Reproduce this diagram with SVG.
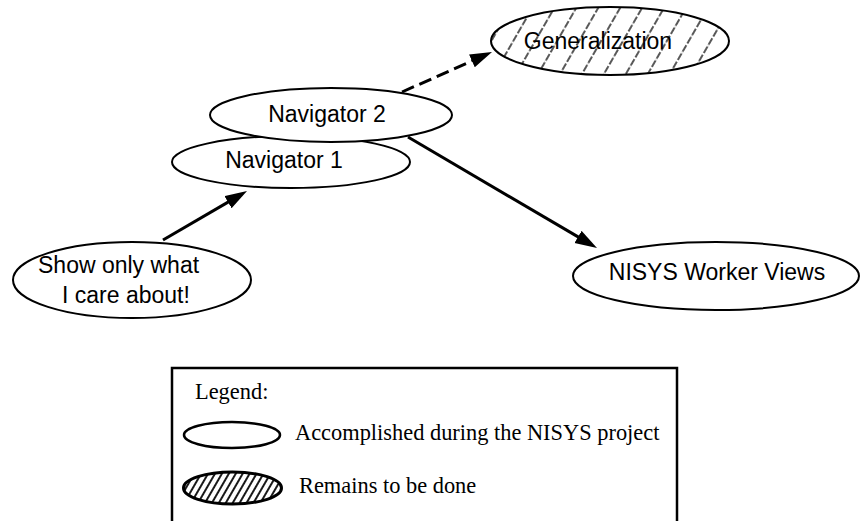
<svg xmlns="http://www.w3.org/2000/svg" width="863" height="521" viewBox="0 0 863 521">
<style>
.node{fill:#fff;stroke:#000;stroke-width:2}
.lbl{font-family:"Liberation Sans",Arial,sans-serif;font-size:23px;fill:#000}
.leg{font-family:"Liberation Serif","Times New Roman",serif;font-size:22.4px;fill:#000}
.edge{stroke:#000;stroke-width:3;fill:none}
</style>
<defs>
<marker id="ah" markerUnits="userSpaceOnUse" markerWidth="24" markerHeight="16" refX="6" refY="7" orient="auto">
<path d="M0,0 L22,7 L0,14 z" fill="#000"/>
</marker>
<pattern id="hatchBig" patternUnits="userSpaceOnUse" width="19" height="19" patternTransform="rotate(30)">
<rect width="19" height="19" fill="#fff"/>
<line x1="9" y1="0" x2="9" y2="19" stroke="#000" stroke-width="1.3" stroke-dasharray="7.5 2"/>
</pattern>
<pattern id="hatchSmall" patternUnits="userSpaceOnUse" width="6" height="6" patternTransform="rotate(30)">
<rect width="6" height="6" fill="#fff"/>
<line x1="3" y1="0" x2="3" y2="6" stroke="#000" stroke-width="1.8"/>
</pattern>
</defs>
<g id="connectors">
<line class="edge" x1="163" y1="240" x2="233.2" y2="199.1" marker-end="url(#ah)"/>
<line class="edge" x1="402" y1="92" x2="477.4" y2="58.5" stroke-dasharray="13 6" marker-end="url(#ah)"/>
<line class="edge" x1="408" y1="137" x2="583.2" y2="239.9" marker-end="url(#ah)"/>
</g>
<g id="generalization">
<ellipse cx="610" cy="41" rx="119" ry="34" fill="url(#hatchBig)" stroke="#000" stroke-width="2"/>
<text class="lbl" x="598" y="49" text-anchor="middle">Generalization</text>
</g>
<g id="navigator1">
<ellipse class="node" cx="291" cy="162" rx="119" ry="26"/>
<text class="lbl" x="284" y="168" text-anchor="middle">Navigator 1</text>
</g>
<g id="navigator2">
<ellipse class="node" cx="331" cy="115" rx="121" ry="27"/>
<text class="lbl" x="327" y="122" text-anchor="middle">Navigator 2</text>
</g>
<g id="show">
<ellipse class="node" cx="132" cy="280" rx="119" ry="38"/>
<text class="lbl" x="38" y="273">Show only what</text>
<text class="lbl" x="62" y="303">I care about!</text>
</g>
<g id="nisys">
<ellipse class="node" cx="716" cy="276" rx="143" ry="34"/>
<text class="lbl" x="717" y="280" text-anchor="middle">NISYS Worker Views</text>
</g>
<g id="legend">
<rect x="172" y="368" width="505" height="160" fill="#fff" stroke="#000" stroke-width="2.5"/>
<text class="leg" x="195" y="399">Legend:</text>
<ellipse cx="232" cy="435" rx="48" ry="13" fill="#fff" stroke="#000" stroke-width="2.5"/>
<text class="leg" x="295" y="440">Accomplished during the NISYS project</text>
<ellipse cx="232.5" cy="488" rx="49" ry="16" fill="url(#hatchSmall)" stroke="#000" stroke-width="3"/>
<text class="leg" x="299" y="493">Remains to be done</text>
</g>
</svg>
